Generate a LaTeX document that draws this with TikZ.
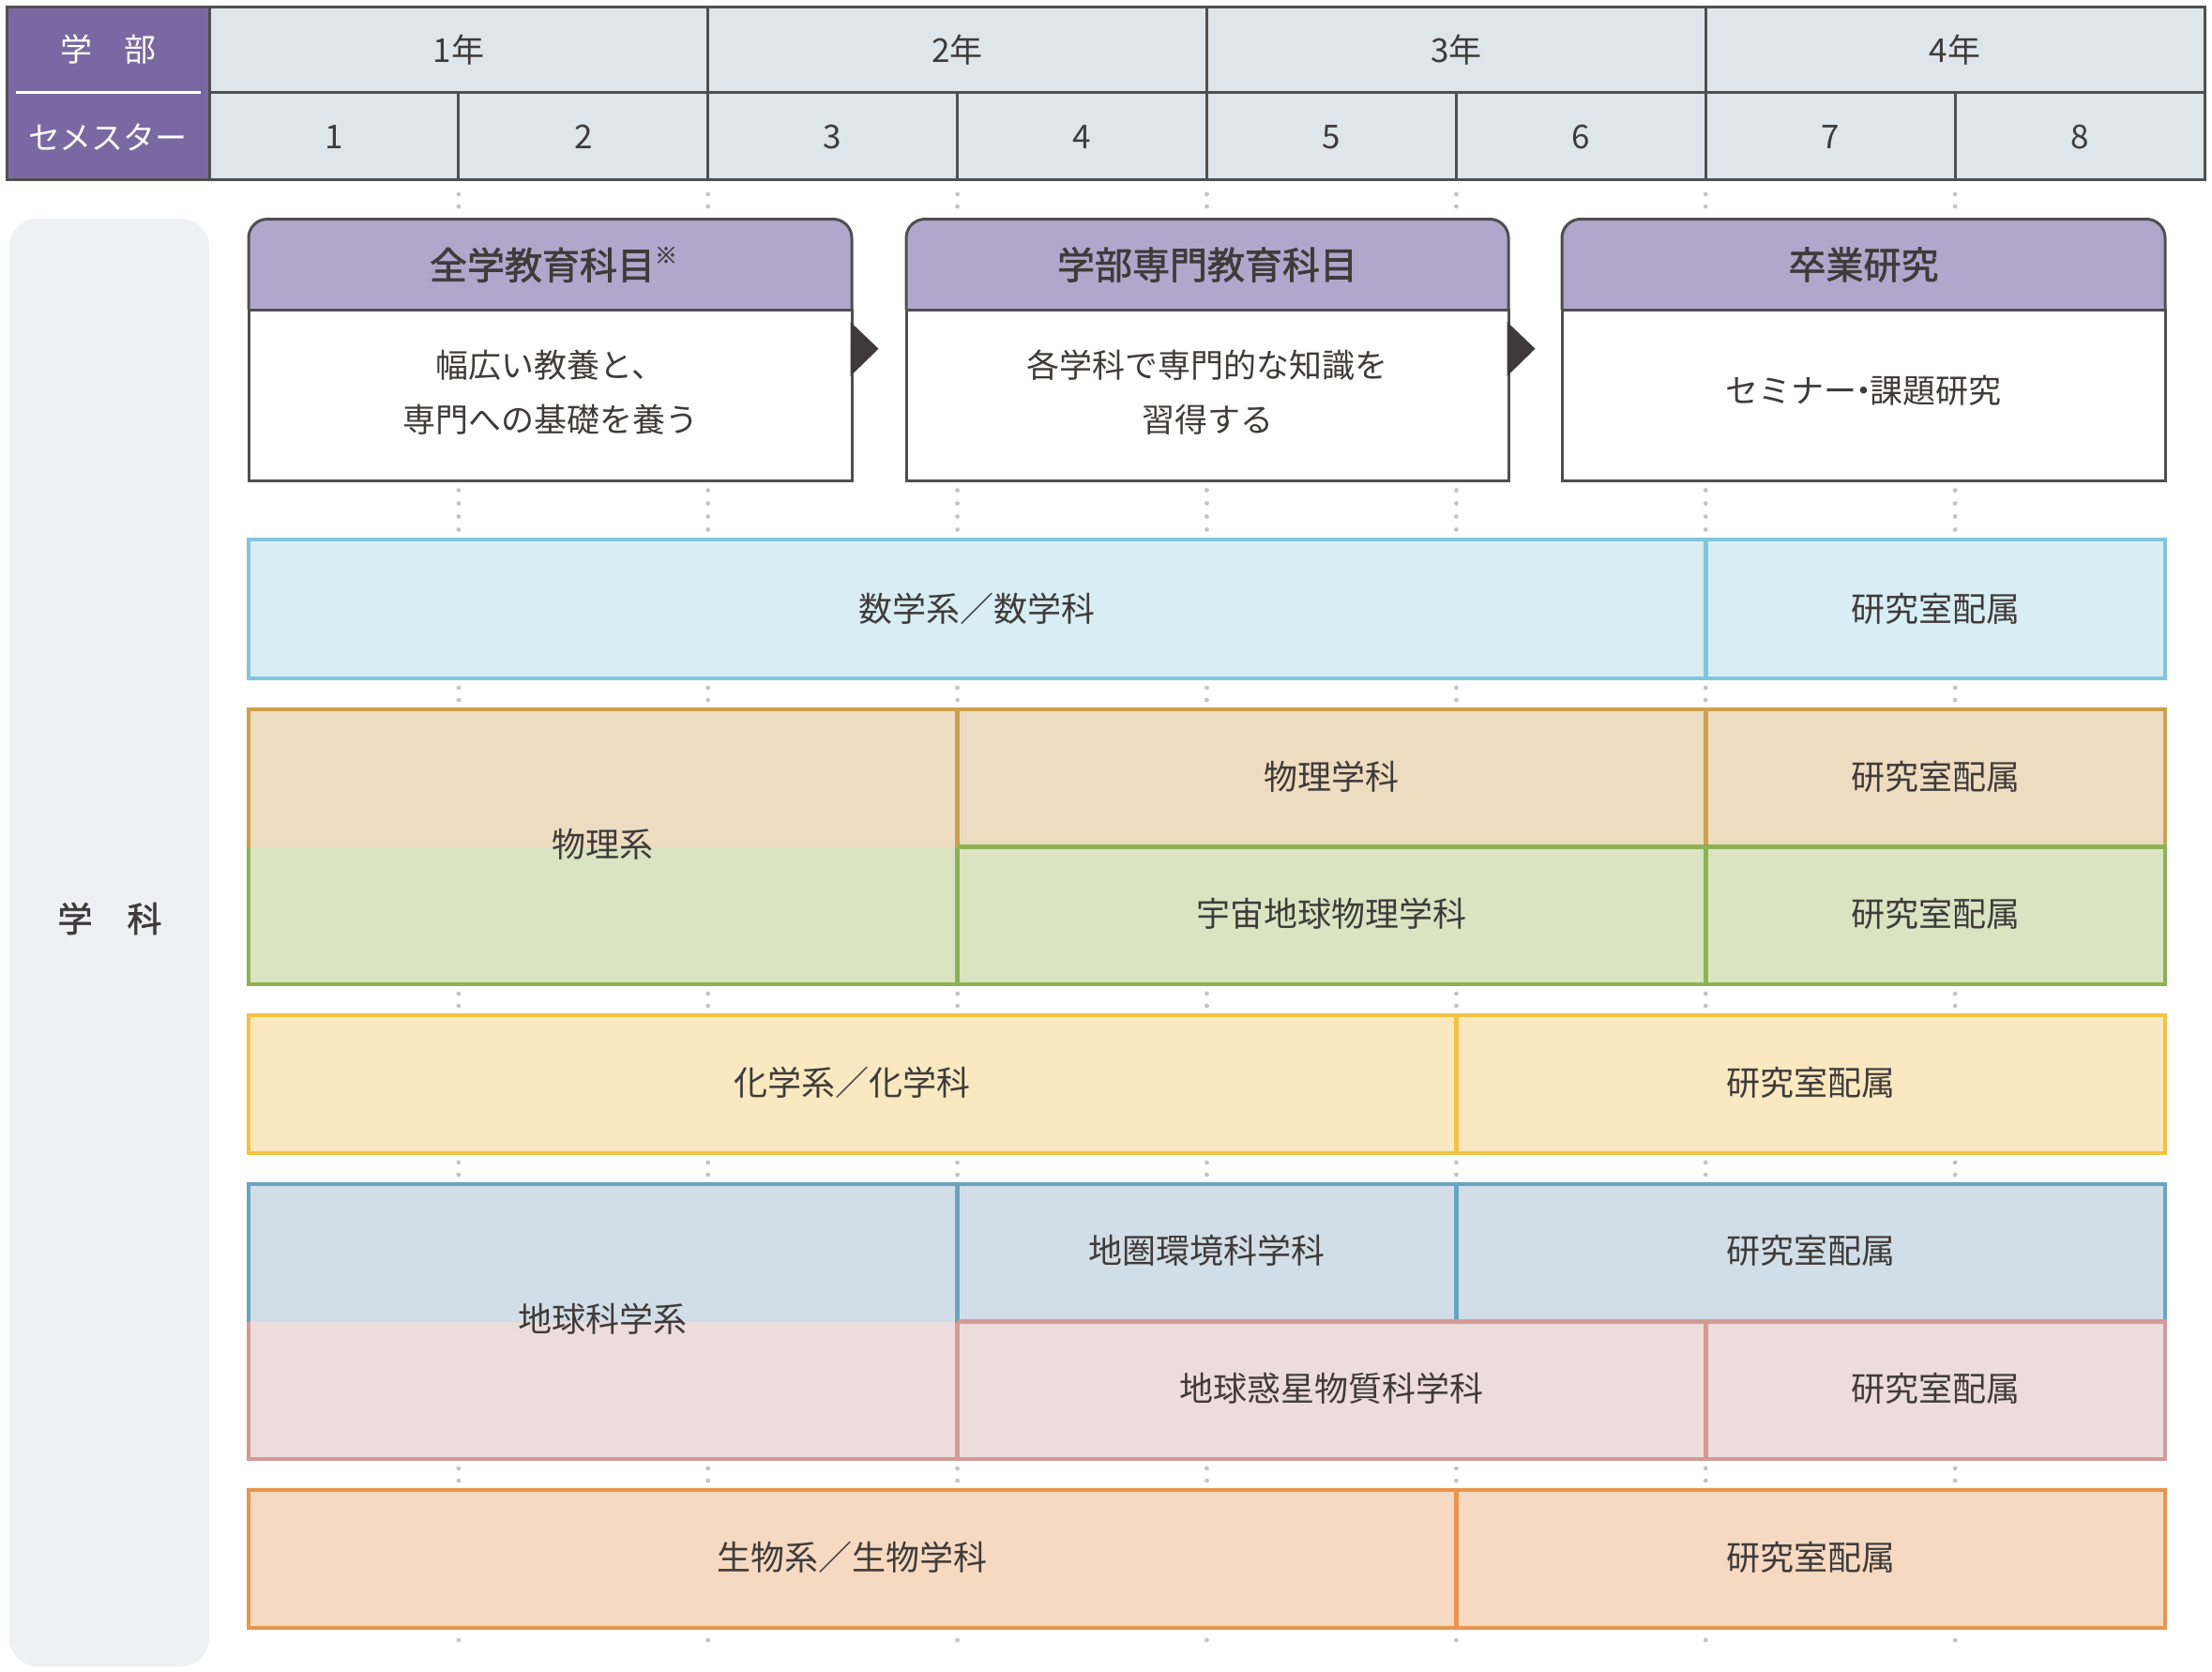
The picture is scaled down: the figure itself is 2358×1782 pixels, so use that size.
\documentclass[tikz,border=0pt]{standalone}
\usepackage{fontspec}
\setmainfont{Noto Sans CJK JP}
\newfontfamily\medfont[FakeBold=1.6]{Noto Sans CJK JP}
\definecolor{txtc}{HTML}{3F3B3A}
\definecolor{bdc}{HTML}{4F4F4F}
\definecolor{hpurple}{HTML}{7B68A3}
\definecolor{hcell}{HTML}{DEE5EB}
\definecolor{bpurple}{HTML}{B1A6CC}
\definecolor{sidec}{HTML}{EFF0F4}
\definecolor{arrc}{HTML}{3E3A3B}
\definecolor{dotc}{HTML}{C4C4C4}
\definecolor{mathB}{HTML}{82C5DF}
\definecolor{mathF}{HTML}{D8EDF4}
\definecolor{phyTB}{HTML}{CDA04E}
\definecolor{phyTF}{HTML}{EDDCBF}
\definecolor{phyBB}{HTML}{8CB253}
\definecolor{phyBF}{HTML}{DAE4C2}
\definecolor{chemB}{HTML}{F2C244}
\definecolor{chemF}{HTML}{FAE8C0}
\definecolor{geoTB}{HTML}{68A5C2}
\definecolor{geoTF}{HTML}{D2DEE7}
\definecolor{geoBB}{HTML}{D49A96}
\definecolor{geoBF}{HTML}{ECDCDB}
\definecolor{bioB}{HTML}{E8944F}
\definecolor{bioF}{HTML}{F5D9C0}
\begin{document}
\begin{tikzpicture}[x=1pt,y=-1pt,
  txt/.style={text=txtc, inner sep=0pt, font=\fontsize{36}{43}\selectfont},
  twoline/.style={txt, align=center, font=\fontsize{35}{58}\selectfont},
  hdtxt/.style={txt, font=\medfont\fontsize{40}{48}\selectfont},
  htxt/.style={txt, font=\fontsize{35}{42}\selectfont},
  wtxt/.style={inner sep=0pt, text=white, font=\fontsize{34}{40}\selectfont},
  grid/.style={draw=bdc, line width=3pt},
  boxline/.style={draw=bdc, line width=3pt},
  bw/.style={line width=4.5pt},
  dotmark/.style={fill=dotc}
]
\useasboundingbox (0,0) rectangle (2358,1782);

% ---------- dotted guide marks ----------
\foreach \x in {488.9,754.75,1020.6,1286.5,1552.4,1818.25,2084.1}{
  \foreach \y in {207,220,522.5,536.5,550.5,564.5,733,746,1059,1072,1239,1252,1565,1578,1748}{
    \fill[dotmark] (\x,\y) circle (2.4pt);
  }
}

% ---------- header table ----------
\fill[hpurple] (7.5,7.5) rectangle (223,191);
\fill[hcell] (223,7.5) rectangle (2350,191);
\draw[white, line width=3pt] (17,99) -- (214,99);
\draw[grid] (223,99) -- (2350,99);
\draw[grid] (223,7.5) -- (223,191);
\foreach \x in {754.75,1286.5,1818.25}{ \draw[grid] (\x,7.5) -- (\x,191); }
\foreach \x in {488.9,1020.6,1552.4,2084.1}{ \draw[grid] (\x,99) -- (\x,191); }
\draw[grid] (7.5,7.5) rectangle (2350,191);

\node[wtxt] (gakubu) at (115,53) {学　部};
\node[wtxt] (semester) at (115,146) {セメスター};
\node[htxt] (y1) at (488.9,53) {1年};
\node[htxt] (y2) at (1020.6,53) {2年};
\node[htxt] (y3) at (1552.4,53) {3年};
\node[htxt] (y4) at (2084.1,53) {4年};
\node[htxt] (s1) at (356,146) {1};
\node[htxt] (s2) at (621.8,146) {2};
\node[htxt] (s3) at (887.7,146) {3};
\node[htxt] (s4) at (1153.6,146) {4};
\node[htxt] (s5) at (1419.5,146) {5};
\node[htxt] (s6) at (1685.3,146) {6};
\node[htxt] (s7) at (1951.2,146) {7};
\node[htxt] (s8) at (2217,146) {8};

% ---------- side block ----------
\fill[sidec, rounded corners=30pt] (10,233) rectangle (223,1776);
\node[txt, font=\medfont\fontsize{37}{44}\selectfont] (gakka) at (117,979) {学　科};

% ---------- top boxes ----------
\foreach \l/\r in {265/908, 966/1608, 1665/2308}{
  \filldraw[fill=bpurple, boxline, rounded corners=20pt] (\l,330) -- (\l,233.5) -- (\r,233.5) -- (\r,330);
  \filldraw[fill=white, boxline] (\l,330) rectangle (\r,512);
}
\fill[arrc] (906.5,343) -- (936.5,371.7) -- (906.5,401) -- cycle;
\fill[arrc] (1606.5,343) -- (1636.5,371.7) -- (1606.5,401) -- cycle;

\node[hdtxt] (zengaku) at (590,282) {全学教育科目\raisebox{0.42em}{\fontsize{24}{24}\selectfont ※}};
\node[hdtxt] (senmon) at (1287,282) {学部専門教育科目};
\node[hdtxt] (sotsugyo) at (1986.5,282) {卒業研究};
\node[twoline] (zengakuT) at (586.5,418) {幅広い教養と、\\専門への基礎を養う};
\node[twoline] (senmonT) at (1287,418) {各学科で専門的な知識を\\習得する};
\node[txt, font=\fontsize{35}{42}\selectfont] (sotsugyoT) at (1986.5,416) {セミナー\kern-0.3em・\kern-0.3em課題研究};

% ---------- math ----------
\filldraw[bw, draw=mathB, fill=mathF] (265,575) rectangle (2308,723);
\draw[bw, mathB] (1818.25,575) -- (1818.25,723);
\node[txt] (math) at (1041.6,649) {数学系／数学科};
\node[txt] (mathlab) at (2063,649) {研究室配属};

% ---------- physics ----------
\fill[phyTF] (265,756) rectangle (2308,902.5);
\fill[phyBF] (265,902.5) rectangle (2308,1049);
\draw[bw, phyTB] (265,902.5) -- (265,756) -- (2308,756) -- (2308,902.5);
\draw[bw, phyTB] (1020.6,756) -- (1020.6,902.5);
\draw[bw, phyTB] (1818.25,756) -- (1818.25,902.5);
\draw[bw, phyBB] (265,902.5) -- (265,1049) -- (2308,1049) -- (2308,902.5) -- (1020.6,902.5);
\draw[bw, phyBB] (1020.6,902.5) -- (1020.6,1049);
\draw[bw, phyBB] (1818.25,902.5) -- (1818.25,1049);
\node[txt] (phys) at (642.8,900) {物理系};
\node[txt] (physdep) at (1419.5,828) {物理学科};
\node[txt] (physlab) at (2063,828) {研究室配属};
\node[txt] (cosmo) at (1419.5,974) {宇宙地球物理学科};
\node[txt] (cosmolab) at (2063,974) {研究室配属};

% ---------- chemistry ----------
\filldraw[bw, draw=chemB, fill=chemF] (265,1082) rectangle (2308,1229);
\draw[bw, chemB] (1552.4,1082) -- (1552.4,1229);
\node[txt] (chem) at (908.7,1154) {化学系／化学科};
\node[txt] (chemlab) at (1930.2,1154) {研究室配属};

% ---------- earth science ----------
\fill[geoTF] (265,1262) rectangle (2308,1408.5);
\fill[geoBF] (265,1408.5) rectangle (2308,1555);
\draw[bw, geoTB] (265,1408.5) -- (265,1262) -- (2308,1262) -- (2308,1408.5);
\draw[bw, geoTB] (1020.6,1262) -- (1020.6,1408.5);
\draw[bw, geoTB] (1552.4,1262) -- (1552.4,1408.5);
\draw[bw, geoBB] (265,1408.5) -- (265,1555) -- (2308,1555) -- (2308,1408.5) -- (1020.6,1408.5);
\draw[bw, geoBB] (1020.6,1408.5) -- (1020.6,1555);
\draw[bw, geoBB] (1818.25,1408.5) -- (1818.25,1555);
\node[txt] (geo) at (642.8,1406) {地球科学系};
\node[txt] (geoenv) at (1286.5,1333) {地圏環境科学科};
\node[txt] (geoenvlab) at (1930.2,1333) {研究室配属};
\node[txt] (geomat) at (1419.5,1480) {地球惑星物質科学科};
\node[txt] (geomatlab) at (2063,1480) {研究室配属};

% ---------- biology ----------
\filldraw[bw, draw=bioB, fill=bioF] (265,1588) rectangle (2308,1735);
\draw[bw, bioB] (1552.4,1588) -- (1552.4,1735);
\node[txt] (bio) at (908.7,1660) {生物系／生物学科};
\node[txt] (biolab) at (1930.2,1660) {研究室配属};
\end{tikzpicture}
\end{document}
